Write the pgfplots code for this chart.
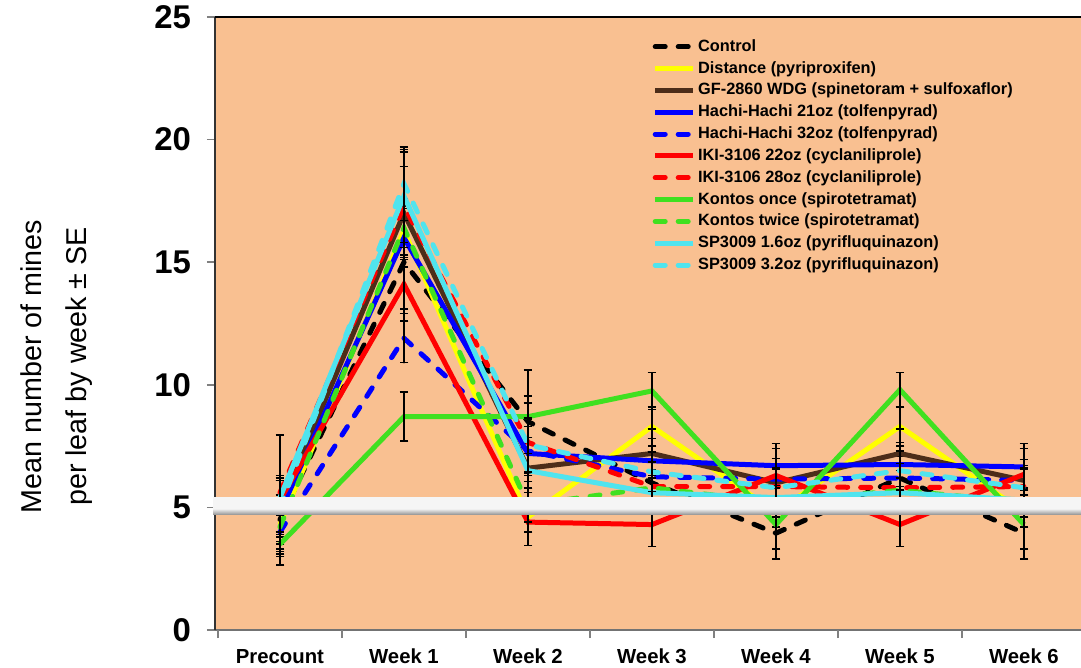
\documentclass[border=0pt]{standalone}
\usepackage{pgfplots}
\pgfplotsset{compat=1.18}
\usepackage{pgfplotstable}
\usepackage{fontspec}
\setmainfont{Liberation Sans}
\definecolor{bg}{RGB}{249,192,145}
\definecolor{cyel}{RGB}{255,255,0}
\definecolor{cbrown}{RGB}{77,45,25}
\definecolor{cblue}{RGB}{0,0,255}
\definecolor{cred}{RGB}{255,0,0}
\definecolor{cgreen}{RGB}{64,224,32}
\definecolor{ccyan}{RGB}{80,228,238}

\pgfplotstableread{
x y e
0 4.5 1.0
1 15.0 1.9
2 8.5 2.1
3 6.0 0.9
4 3.95 1.05
5 6.2 0.9
6 3.95 1.05
}\tcontrol
\pgfplotstableread{
x y e
0 4.3 0.7
1 16.3 1.0
2 4.6 0.6
3 8.3 0.8
4 4.8 0.6
5 8.3 0.8
6 4.8 0.6
}\tdistance
\pgfplotstableread{
x y e
0 5.0 1.2
1 17.0 1.9
2 6.6 1.0
3 7.2 1.0
4 6.0 0.6
5 7.2 1.0
6 6.1 0.6
}\tgf
\pgfplotstableread{
x y e
0 4.8 1.5
1 16.0 1.2
2 7.2 1.4
3 6.9 0.9
4 6.7 0.9
5 6.75 0.9
6 6.65 0.95
}\thachiA
\pgfplotstableread{
x y e
0 4.0 0.9
1 11.9 1.0
2 7.3 1.0
3 6.25 0.6
4 6.15 0.85
5 6.2 0.6
6 6.1 0.85
}\thachiB
\pgfplotstableread{
x y e
0 5.3 2.65
1 14.1 1.5
2 4.4 0.95
3 4.3 0.9
4 6.3 1.1
5 4.3 0.9
6 6.35 1.05
}\tikiA
\pgfplotstableread{
x y e
0 5.6 0.5
1 17.3 2.2
2 7.65 1.6
3 5.85 0.7
4 5.85 0.7
5 5.8 0.7
6 5.85 0.7
}\tikiB
\pgfplotstableread{
x y e
0 3.5 0.5
1 8.7 1.0
2 8.7 0.85
3 9.75 0.75
4 4.3 1.0
5 9.8 0.7
6 4.3 1.0
}\tkontA
\pgfplotstableread{
x y e
0 4.2 1.0
1 16.4 1.2
2 5.1 0.7
3 5.8 0.5
4 5.2 0.6
5 5.7 0.5
6 5.2 0.6
}\tkontB
\pgfplotstableread{
x y e
0 5.4 0.7
1 17.7 1.9
2 6.5 0.7
3 5.6 0.6
4 5.4 0.5
5 5.6 0.6
6 5.3 0.5
}\tspA
\pgfplotstableread{
x y e
0 5.0 1.1
1 18.2 1.5
2 7.55 1.1
3 6.45 0.8
4 5.8 0.8
5 6.5 0.8
6 5.8 0.8
}\tspB

\pgfplotsset{
  ser/.style={line width=2.5bp, no markers,
    error bars/y dir=both, error bars/y explicit,
    error bars/error bar style={black, line width=0.75bp, solid},
    error bars/error mark options={black, line width=0.75bp, mark size=2.2bp, solid, rotate=90}},
  dsh/.style={dash pattern=on 5bp off 6.5bp, line cap=round},
}

\begin{document}
\begin{tikzpicture}
\begin{axis}[
  name=ax,
  scale only axis,
  width=433bp, height=306.5bp,
  xmin=-0.524, xmax=6.46, ymin=0, ymax=25,
  axis y line*=left, axis x line*=bottom,
  axis background/.style={fill=bg},
  x axis line style={draw=black!55, line width=1bp},
  y axis line style={draw=black!80, line width=1bp},
  ytick={0,5,10,15,20,25},
  y tick style={draw=black!50, line width=0.75bp},
  major tick length=4bp,
  tick align=outside,
  xtick={0,1,2,3,4,5,6},
  xticklabels={Precount,Week 1,Week 2,Week 3,Week 4,Week 5,Week 6},
  x tick style={draw=none},
  extra x ticks={-0.5,0.5,1.5,2.5,3.5,4.5,5.5},
  extra x tick labels={},
  extra x tick style={x tick style={draw=black!50, line width=0.6bp}},
  /pgf/number format/assume math mode=true,
  yticklabel style={font=\fontsize{16.5}{18}\selectfont\bfseries, xshift=-4.5bp},
  xticklabel style={font=\fontsize{10.2}{12}\selectfont\bfseries, yshift=-2bp},
  ylabel={Mean number of mines\\per leaf by week ± SE},
  ylabel style={font=\fontsize{14.4}{22.5}\selectfont, align=center, at={(ticklabel cs:0.43)}},
  ylabel shift=24bp,
  clip=false,
  legend cell align=left,
  legend style={at={(rel axis cs:0.505,0.968)}, anchor=north west, draw=none, fill=none,
    font=\fontsize{8.2}{9}\selectfont\bfseries, inner sep=0pt, row sep=1.1bp,
    nodes={inner sep=1.2bp}},
  legend image code/.code={\draw[#1] (0bp,0bp) -- (19bp,0bp);},
]
\addplot[black, dsh, ser] table[x=x, y=y, y error=e] {\tcontrol};
\addlegendentry{Control}
\addplot[cyel, ser] table[x=x, y=y, y error=e] {\tdistance};
\addlegendentry{Distance (pyriproxifen)}
\addplot[cbrown, ser] table[x=x, y=y, y error=e] {\tgf};
\addlegendentry{GF-2860 WDG (spinetoram + sulfoxaflor)}
\addplot[cblue, ser] table[x=x, y=y, y error=e] {\thachiA};
\addlegendentry{Hachi-Hachi 21oz (tolfenpyrad)}
\addplot[cblue, dsh, ser] table[x=x, y=y, y error=e] {\thachiB};
\addlegendentry{Hachi-Hachi 32oz (tolfenpyrad)}
\addplot[cred, ser] table[x=x, y=y, y error=e] {\tikiA};
\addlegendentry{IKI-3106 22oz (cyclaniliprole)}
\addplot[cred, dsh, ser] table[x=x, y=y, y error=e] {\tikiB};
\addlegendentry{IKI-3106 28oz (cyclaniliprole)}
\addplot[cgreen, ser] table[x=x, y=y, y error=e] {\tkontA};
\addlegendentry{Kontos once (spirotetramat)}
\addplot[cgreen, dsh, ser] table[x=x, y=y, y error=e] {\tkontB};
\addlegendentry{Kontos twice (spirotetramat)}
\addplot[ccyan, ser] table[x=x, y=y, y error=e] {\tspA};
\addlegendentry{SP3009 1.6oz (pyrifluquinazon)}
\addplot[ccyan, dsh, ser] table[x=x, y=y, y error=e] {\tspB};
\addlegendentry{SP3009 3.2oz (pyrifluquinazon)}
\draw[black, line width=1bp] (rel axis cs:0,1) -- (rel axis cs:1,1);
\shade[top color=gray!8, bottom color=black!40] (axis cs:-0.54,4.72) rectangle (axis cs:6.46,4.95);
\fill[gray!8] (axis cs:-0.54,4.95) rectangle (axis cs:6.46,5.42);
\coordinate (SW) at (rel axis cs:0,0);
\coordinate (NE) at (rel axis cs:1,1);
\end{axis}
\pgfresetboundingbox
\path[use as bounding box] ([xshift=-107.5bp, yshift=-19bp]SW) rectangle ([yshift=8.5bp]NE);
\end{tikzpicture}
\end{document}
